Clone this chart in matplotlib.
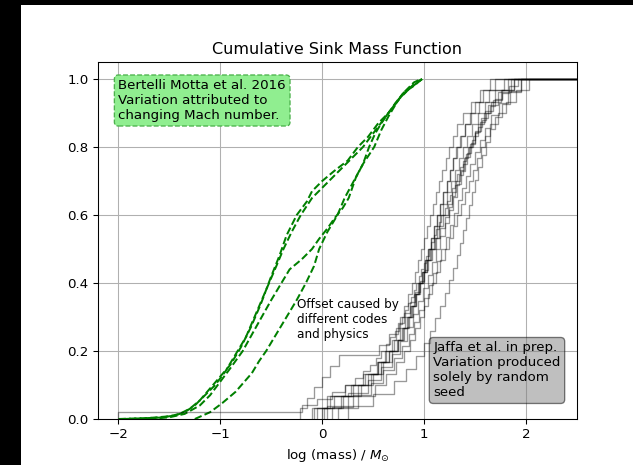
import numpy as np
import matplotlib
matplotlib.use("Agg")
import matplotlib.pyplot as plt
from matplotlib.patches import Rectangle

# ---------------- data ----------------
# Bertelli Motta et al. 2016 curves (log mass, cumulative fraction)
bm1_x = [-2.0, -1.7, -1.5, -1.4, -1.3, -1.2, -1.1, -1.0, -0.9, -0.8, -0.7, -0.6, -0.5, -0.42, -0.35,
         -0.25, -0.15, -0.1, 0.0, 0.12, 0.25, 0.35, 0.45, 0.55, 0.65, 0.78, 0.9, 0.98]
bm1_y = [0.0, 0.003, 0.008, 0.015, 0.03, 0.055, 0.09, 0.125, 0.16, 0.21, 0.27, 0.34, 0.42, 0.48, 0.54,
         0.60, 0.64, 0.67, 0.70, 0.73, 0.76, 0.80, 0.83, 0.87, 0.90, 0.95, 0.985, 1.0]
bm2_x = [-1.95, -1.6, -1.45, -1.35, -1.25, -1.15, -1.05, -0.95, -0.85, -0.75, -0.65, -0.55, -0.45, -0.38,
         -0.3, -0.21, -0.1, 0.0, 0.1, 0.2, 0.3, 0.4, 0.5, 0.6, 0.7, 0.8, 0.9, 0.97]
bm2_y = [0.0, 0.004, 0.01, 0.02, 0.04, 0.07, 0.10, 0.14, 0.19, 0.24, 0.31, 0.38, 0.45, 0.50,
         0.55, 0.60, 0.65, 0.68, 0.71, 0.74, 0.77, 0.80, 0.84, 0.88, 0.92, 0.96, 0.99, 1.0]
bm3_x = [-1.7, -1.5, -1.35, -1.2, -1.1, -1.0, -0.9, -0.78, -0.65, -0.5, -0.4, -0.32, -0.2, -0.1, -0.03,
         0.05, 0.12, 0.2, 0.26, 0.33, 0.4, 0.46, 0.52, 0.58, 0.65, 0.72, 0.8, 0.9, 0.98]
bm3_y = [0.0, 0.005, 0.015, 0.04, 0.07, 0.11, 0.15, 0.20, 0.27, 0.35, 0.40, 0.44, 0.47, 0.50, 0.53,
         0.56, 0.59, 0.62, 0.65, 0.71, 0.75, 0.80, 0.84, 0.87, 0.90, 0.93, 0.96, 0.98, 1.0]
bm4_x = [-1.25, -1.1, -0.98, -0.85, -0.69, -0.62, -0.55, -0.45, -0.35, -0.25, -0.16, -0.08, -0.03,
         0.05, 0.15, 0.22, 0.31, 0.4, 0.51, 0.58, 0.65, 0.75, 0.85, 0.98]
bm4_y = [0.0, 0.02, 0.047, 0.08, 0.135, 0.17, 0.20, 0.25, 0.30, 0.35, 0.40, 0.45, 0.50,
         0.55, 0.60, 0.65, 0.70, 0.75, 0.80, 0.85, 0.89, 0.94, 0.97, 1.0]

# Jaffa et al. sorted sink log-masses (one list per random seed)
seed1 = [-0.10, 0.08, 0.30, 0.45, 0.55, 0.62, 0.68, 0.72, 0.76, 0.80, 0.84, 0.88, 0.91, 0.94, 0.97,
         1.00, 1.03, 1.06, 1.09, 1.12, 1.15, 1.18, 1.21, 1.24, 1.28, 1.32, 1.38, 1.46, 1.55, 1.65]
seed2 = [0.15, 0.35, 0.52, 0.63, 0.72, 0.80, 0.86, 0.91, 0.96, 1.00, 1.04, 1.08, 1.12, 1.16, 1.20,
         1.24, 1.28, 1.32, 1.36, 1.40, 1.44, 1.48, 1.52, 1.56, 1.60, 1.65, 1.72, 1.80, 1.90, 2.03]
seed3 = [-0.22, -0.15, -0.08, 0.0, 0.08, 0.16, 0.56, 0.66, 0.74, 0.80, 0.86, 0.91, 0.96, 1.00, 1.04,
         1.08, 1.12, 1.16, 1.20, 1.24, 1.27, 1.30, 1.34, 1.38, 1.42, 1.46, 1.50, 1.55, 1.60, 1.68, 1.76, 1.88]
seed4 = [-2.0, -0.20, -0.05, 0.10, 0.22, 0.32, 0.40, 0.47, 0.53, 0.58, 0.63, 0.67, 0.71, 0.75, 0.78,
         0.81, 0.84, 0.87, 0.90, 0.92, 0.95, 0.97, 1.00, 1.02, 1.05, 1.07, 1.10, 1.12, 1.15, 1.17,
         1.20, 1.22, 1.25, 1.27, 1.30, 1.32, 1.35, 1.38, 1.41, 1.44, 1.47, 1.50, 1.53, 1.57, 1.61,
         1.65, 1.70, 1.76, 1.83, 1.92]
seed5 = [0.02, 0.20, 0.38, 0.50, 0.60, 0.68, 0.74, 0.79, 0.84, 0.88, 0.92, 0.96, 1.00, 1.03, 1.06,
         1.10, 1.13, 1.16, 1.19, 1.22, 1.26, 1.30, 1.34, 1.38, 1.42, 1.47, 1.53, 1.60, 1.70, 1.82]
seed6 = [0.10, 0.30, 0.48, 0.60, 0.70, 0.78, 0.85, 0.90, 0.95, 1.00, 1.05, 1.09, 1.13, 1.17, 1.21,
         1.25, 1.29, 1.33, 1.37, 1.41, 1.45, 1.50, 1.55, 1.60, 1.66, 1.73, 1.82, 1.95]
seed7 = [-0.05, 0.12, 0.28, 0.42, 0.54, 0.63, 0.70, 0.76, 0.81, 0.86, 0.90, 0.94, 0.98, 1.01, 1.04,
         1.07, 1.10, 1.13, 1.16, 1.19, 1.22, 1.25, 1.28, 1.31, 1.35, 1.40, 1.46, 1.54, 1.64, 1.78]
seed8 = [0.05, 0.25, 0.45, 0.58, 0.68, 0.76, 0.83, 0.89, 0.94, 0.99, 1.04, 1.08, 1.12, 1.16, 1.20,
         1.24, 1.28, 1.32, 1.36, 1.40, 1.45, 1.50, 1.56, 1.63, 1.72, 1.85]
seed9 = [0.0, 0.18, 0.35, 0.48, 0.58, 0.66, 0.73, 0.78, 0.83, 0.87, 0.91, 0.95, 0.99, 1.03, 1.07,
         1.11, 1.15, 1.19, 1.23, 1.27, 1.31, 1.35, 1.39, 1.43, 1.48, 1.53, 1.59, 1.66, 1.75, 1.88]
seed10 = [-0.08, 0.05, 0.22, 0.40, 0.55, 0.66, 0.74, 0.80, 0.85, 0.89, 0.92, 0.95, 0.98, 1.01, 1.04,
          1.07, 1.10, 1.13, 1.16, 1.19, 1.22, 1.25, 1.28, 1.32, 1.36, 1.40, 1.45, 1.50, 1.58, 1.70]
seed11 = [0.25, 0.50, 0.70, 0.82, 0.92, 1.00, 1.06, 1.11, 1.16, 1.20, 1.24, 1.28, 1.32, 1.35, 1.38,
          1.41, 1.44, 1.47, 1.50, 1.53, 1.57, 1.61, 1.65, 1.70, 1.76, 1.84, 1.95]

title = "Cumulative Sink Mass Function"
xlabel = r"log (mass) / $M_{\odot}$"
bm_note = "Bertelli Motta et al. 2016\nVariation attributed to\nchanging Mach number."
offset_note = "Offset caused by\ndifferent codes\nand physics"
jaffa_note = "Jaffa et al. in prep.\nVariation produced\nsolely by random\nseed"

# ---------------- figure ----------------
DPI = 96
fig = plt.figure(figsize=(633 / DPI, 465 / DPI), dpi=DPI, facecolor="black")
fig.patches.append(Rectangle((21 / 633, 0), 1 - 21 / 633, 1 - 5 / 465,
                             transform=fig.transFigure, facecolor="white",
                             edgecolor="none", zorder=-10))
ax = fig.add_axes([98 / 633, 46 / 465, 479 / 633, 357 / 465])

for xs, ys in [(bm1_x, bm1_y), (bm2_x, bm2_y), (bm3_x, bm3_y), (bm4_x, bm4_y)]:
    ax.plot(xs, ys, "--", color="g", lw=1.5)

xmax_ext = 2.5
for s in [seed1, seed2, seed3, seed4, seed5, seed6, seed7, seed8, seed9, seed10, seed11]:
    s = np.asarray(s)
    n = len(s)
    y = np.arange(1, n + 1) / n
    xs = np.r_[s[0], s, xmax_ext]
    ys = np.r_[0.0, y, 1.0]
    ax.step(xs, ys, where="post", color="k", alpha=0.4, lw=1)

ax.set_xlim(-2.2, 2.5)
ax.set_ylim(0, 1.05)
ax.set_xticks([-2, -1, 0, 1, 2])
ax.set_yticks([0.0, 0.2, 0.4, 0.6, 0.8, 1.0])
ax.grid(True, color="#b0b0b0", lw=0.8)
ax.set_axisbelow(True)
ax.set_title(title, fontsize=12)
ax.set_xlabel(xlabel, fontsize=10)
ax.tick_params(labelsize=10)

ax.text(-2.0, 1.0, bm_note, ha="left", va="top", fontsize=10,
        bbox=dict(boxstyle="round", facecolor="lightgreen",
                  edgecolor=(0.3, 0.7, 0.3), linestyle="--"))
ax.text(-0.25, 0.355, offset_note, ha="left", va="top", fontsize=9)
ax.text(1.09, 0.228, jaffa_note, ha="left", va="top", fontsize=10,
        bbox=dict(boxstyle="round", facecolor="gray", alpha=0.5))

fig.savefig("out.png", dpi=DPI)
